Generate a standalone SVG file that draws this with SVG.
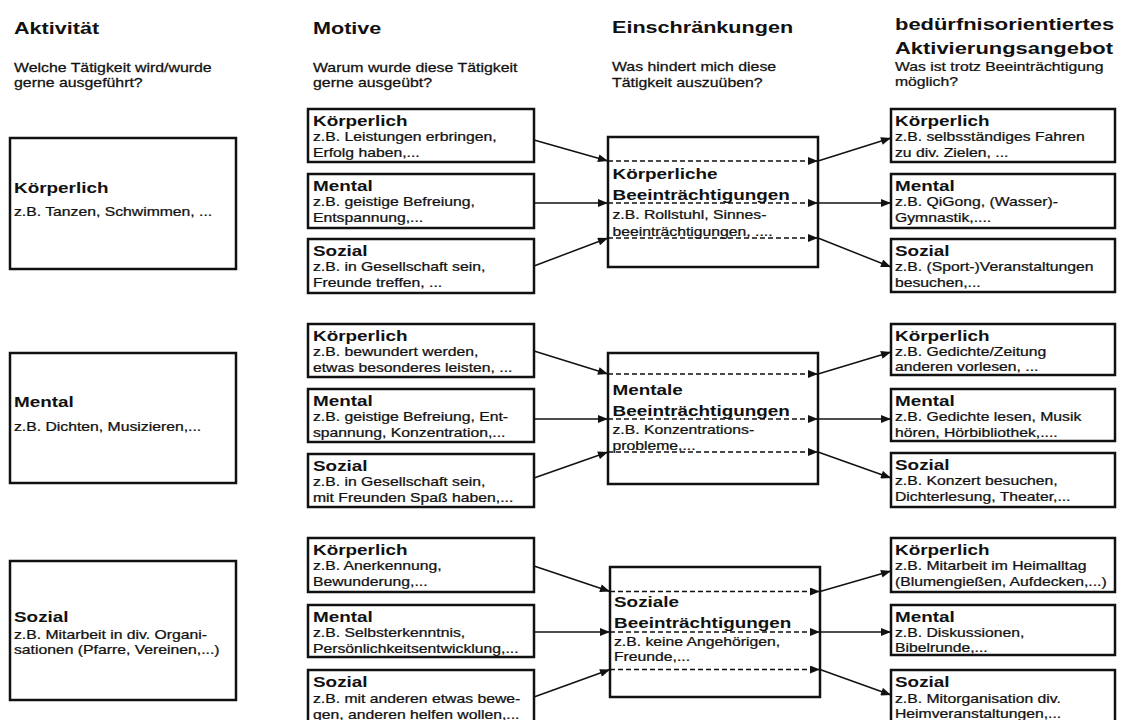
<svg xmlns="http://www.w3.org/2000/svg" width="1122" height="720" viewBox="0 0 1122 720">
<defs>
<style>
text { font-family: "Liberation Sans", Arial, sans-serif; fill: #111; }
.h { font-size: 17px; font-weight: bold; }
.q { font-size: 12.5px; stroke: #111; stroke-width: 0.25; }
.b { font-size: 15px; font-weight: bold; }
.s { font-size: 12.5px; stroke: #111; stroke-width: 0.25; }
.box { fill: #fff; stroke: #111; stroke-width: 2.5; }
.ln { stroke: #111; stroke-width: 1.5; fill: none; marker-end: url(#ah); }
.dl { stroke: #111; stroke-width: 1.3; stroke-dasharray: 5 3; fill: none; marker-end: url(#ah); }
</style>
<marker id="ah" viewBox="0 0 10 8" refX="10" refY="4" markerWidth="11" markerHeight="8" markerUnits="userSpaceOnUse" orient="auto">
<path d="M0,0 L10,4 L0,8 z" fill="#111"/>
</marker>
</defs>
<rect width="1122" height="720" fill="#fff"/>

<g id="headers">
<g transform="translate(14 0) scale(1.27 1)">
<text class="h" y="34">Aktivität</text>
<text class="q" y="72">Welche Tätigkeit wird/wurde</text>
<text class="q" y="87.5">gerne ausgeführt?</text>
</g>
<g transform="translate(313 0) scale(1.27 1)">
<text class="h" y="34">Motive</text>
<text class="q" y="72">Warum wurde diese Tätigkeit</text>
<text class="q" y="87.5">gerne ausgeübt?</text>
</g>
<g transform="translate(612 0) scale(1.27 1)">
<text class="h" y="33.5">Einschränkungen</text>
<text class="q" y="71.5">Was hindert mich diese</text>
<text class="q" y="87.5">Tätigkeit auszuüben?</text>
</g>
<g transform="translate(895 0) scale(1.29 1)">
<text class="h" y="30">bedürfnisorientiertes</text>
<text class="h" y="54">Aktivierungsangebot</text>
</g>
<g transform="translate(895 0) scale(1.26 1)">
<text class="q" y="71">Was ist trotz Beeinträchtigung</text>
<text class="q" y="86.5">möglich?</text>
</g>
</g>

<!-- Aktivität column -->
<g id="akt-koerperlich">
<rect class="box" x="10" y="138" width="226" height="131"/>
<g transform="translate(14 0) scale(1.26 1)">
<text class="b" y="193">Körperlich</text>
<text class="s" y="216">z.B. Tanzen, Schwimmen, ...</text>
</g>
</g>
<g id="akt-mental">
<rect class="box" x="10" y="353" width="226" height="130"/>
<g transform="translate(14 0) scale(1.26 1)">
<text class="b" y="407">Mental</text>
<text class="s" y="431">z.B. Dichten, Musizieren,...</text>
</g>
</g>
<g id="akt-sozial">
<rect class="box" x="10" y="561" width="226" height="139"/>
<g transform="translate(14 0) scale(1.26 1)">
<text class="b" y="622">Sozial</text>
<text class="s" y="639">z.B. Mitarbeit in div. Organi-</text>
<text class="s" y="654">sationen (Pfarre, Vereinen,...)</text>
</g>
</g>

<!-- Motive column -->
<g id="mot-1-koerperlich">
<rect class="box" x="308" y="109" width="226" height="53"/>
<g transform="translate(313 0) scale(1.26 1)">
<text class="b" y="126">Körperlich</text>
<text class="s" y="141.5">z.B. Leistungen erbringen,</text>
<text class="s" y="157">Erfolg haben,...</text>
</g>
</g>
<g id="mot-1-mental">
<rect class="box" x="308" y="174" width="226" height="54"/>
<g transform="translate(313 0) scale(1.26 1)">
<text class="b" y="191">Mental</text>
<text class="s" y="206.5">z.B. geistige Befreiung,</text>
<text class="s" y="222">Entspannung,...</text>
</g>
</g>
<g id="mot-1-sozial">
<rect class="box" x="308" y="239" width="226" height="54"/>
<g transform="translate(313 0) scale(1.26 1)">
<text class="b" y="256">Sozial</text>
<text class="s" y="271.5">z.B. in Gesellschaft sein,</text>
<text class="s" y="287">Freunde treffen, ...</text>
</g>
</g>
<g id="mot-2-koerperlich">
<rect class="box" x="308" y="324" width="226" height="53"/>
<g transform="translate(313 0) scale(1.26 1)">
<text class="b" y="341">Körperlich</text>
<text class="s" y="356.5">z.B. bewundert werden,</text>
<text class="s" y="372">etwas besonderes leisten, ...</text>
</g>
</g>
<g id="mot-2-mental">
<rect class="box" x="308" y="389" width="226" height="53"/>
<g transform="translate(313 0) scale(1.26 1)">
<text class="b" y="406">Mental</text>
<text class="s" y="421.5">z.B. geistige Befreiung, Ent-</text>
<text class="s" y="437">spannung, Konzentration,...</text>
</g>
</g>
<g id="mot-2-sozial">
<rect class="box" x="308" y="454" width="226" height="53"/>
<g transform="translate(313 0) scale(1.26 1)">
<text class="b" y="471">Sozial</text>
<text class="s" y="486.5">z.B. in Gesellschaft sein,</text>
<text class="s" y="502">mit Freunden Spaß haben,...</text>
</g>
</g>
<g id="mot-3-koerperlich">
<rect class="box" x="308" y="538" width="226" height="54"/>
<g transform="translate(313 0) scale(1.26 1)">
<text class="b" y="555">Körperlich</text>
<text class="s" y="570.5">z.B. Anerkennung,</text>
<text class="s" y="586">Bewunderung,...</text>
</g>
</g>
<g id="mot-3-mental">
<rect class="box" x="308" y="605" width="226" height="52"/>
<g transform="translate(313 0) scale(1.26 1)">
<text class="b" y="622">Mental</text>
<text class="s" y="637.5">z.B. Selbsterkenntnis,</text>
<text class="s" y="653">Persönlichkeitsentwicklung,...</text>
</g>
</g>
<g id="mot-3-sozial">
<rect class="box" x="308" y="670" width="226" height="56"/>
<g transform="translate(313 0) scale(1.26 1)">
<text class="b" y="687">Sozial</text>
<text class="s" y="703">z.B. mit anderen etwas bewe-</text>
<text class="s" y="719">gen, anderen helfen wollen,...</text>
</g>
</g>

<!-- Einschränkungen column -->
<g id="ein-koerperlich">
<rect class="box" x="608" y="137" width="210" height="130"/>
<g transform="translate(612.5 0) scale(1.26 1)">
<text class="b" y="179.5">Körperliche</text>
<text class="b" y="200">Beeinträchtigungen</text>
<text class="s" y="219">z.B. Rollstuhl, Sinnes-</text>
<text class="s" y="236">beeinträchtigungen, ....</text>
</g>
</g>
<g id="ein-mental">
<rect class="box" x="608" y="353" width="210" height="131"/>
<g transform="translate(612.5 0) scale(1.26 1)">
<text class="b" y="395">Mentale</text>
<text class="b" y="416">Beeinträchtigungen</text>
<text class="s" y="434">z.B. Konzentrations-</text>
<text class="s" y="450.5">probleme,...</text>
</g>
</g>
<g id="ein-sozial">
<rect class="box" x="610" y="567" width="210" height="130"/>
<g transform="translate(614 0) scale(1.26 1)">
<text class="b" y="607.5">Soziale</text>
<text class="b" y="628.5">Beeinträchtigungen</text>
<text class="s" y="646">z.B. keine Angehörigen,</text>
<text class="s" y="661.5">Freunde,...</text>
</g>
</g>

<!-- Angebot column -->
<g id="ang-1-koerperlich">
<rect class="box" x="891" y="109" width="224" height="53"/>
<g transform="translate(895 0) scale(1.26 1)">
<text class="b" y="126">Körperlich</text>
<text class="s" y="141.5">z.B. selbsständiges Fahren</text>
<text class="s" y="157">zu div. Zielen, ...</text>
</g>
</g>
<g id="ang-1-mental">
<rect class="box" x="891" y="174" width="224" height="54"/>
<g transform="translate(895 0) scale(1.26 1)">
<text class="b" y="191">Mental</text>
<text class="s" y="206.5">z.B. QiGong, (Wasser)-</text>
<text class="s" y="222">Gymnastik,....</text>
</g>
</g>
<g id="ang-1-sozial">
<rect class="box" x="891" y="239" width="224" height="53"/>
<g transform="translate(895 0) scale(1.26 1)">
<text class="b" y="256">Sozial</text>
<text class="s" y="271.5">z.B. (Sport-)Veranstaltungen</text>
<text class="s" y="287">besuchen,...</text>
</g>
</g>
<g id="ang-2-koerperlich">
<rect class="box" x="891" y="324" width="224" height="51"/>
<g transform="translate(895 0) scale(1.26 1)">
<text class="b" y="341">Körperlich</text>
<text class="s" y="356.5">z.B. Gedichte/Zeitung</text>
<text class="s" y="371">anderen vorlesen, ...</text>
</g>
</g>
<g id="ang-2-mental">
<rect class="box" x="891" y="389" width="224" height="52"/>
<g transform="translate(895 0) scale(1.26 1)">
<text class="b" y="406">Mental</text>
<text class="s" y="421.5">z.B. Gedichte lesen, Musik</text>
<text class="s" y="437">hören, Hörbibliothek,....</text>
</g>
</g>
<g id="ang-2-sozial">
<rect class="box" x="891" y="453" width="224" height="54"/>
<g transform="translate(895 0) scale(1.26 1)">
<text class="b" y="470">Sozial</text>
<text class="s" y="485.5">z.B. Konzert besuchen,</text>
<text class="s" y="501">Dichterlesung, Theater,...</text>
</g>
</g>
<g id="ang-3-koerperlich">
<rect class="box" x="891" y="538" width="224" height="54"/>
<g transform="translate(895 0) scale(1.26 1)">
<text class="b" y="555">Körperlich</text>
<text class="s" y="570.5">z.B. Mitarbeit im Heimalltag</text>
<text class="s" y="586">(Blumengießen, Aufdecken,...)</text>
</g>
</g>
<g id="ang-3-mental">
<rect class="box" x="891" y="605" width="224" height="50"/>
<g transform="translate(895 0) scale(1.26 1)">
<text class="b" y="622">Mental</text>
<text class="s" y="637">z.B. Diskussionen,</text>
<text class="s" y="652">Bibelrunde,...</text>
</g>
</g>
<g id="ang-3-sozial">
<rect class="box" x="891" y="670" width="224" height="56"/>
<g transform="translate(895 0) scale(1.26 1)">
<text class="b" y="687">Sozial</text>
<text class="s" y="703">z.B. Mitorganisation div.</text>
<text class="s" y="718">Heimveranstaltungen,...</text>
</g>
</g>

<g id="connectors">
<path class="ln" d="M534,140 L608,161"/>
<path class="ln" d="M534,203 L608,203"/>
<path class="ln" d="M534,266 L608,238"/>
<path class="dl" d="M608,161 L818,161"/>
<path class="dl" d="M608,203 L818,203"/>
<path class="dl" d="M608,238 L818,238"/>
<path class="ln" d="M818,161 L891,138"/>
<path class="ln" d="M818,203 L891,203"/>
<path class="ln" d="M818,238 L891,267"/>

<path class="ln" d="M534,351 L608,374"/>
<path class="ln" d="M534,419 L608,419"/>
<path class="ln" d="M534,478 L608,452"/>
<path class="dl" d="M608,374 L818,374"/>
<path class="dl" d="M608,419 L818,419"/>
<path class="dl" d="M608,452 L818,452"/>
<path class="ln" d="M818,374 L891,352"/>
<path class="ln" d="M818,419 L891,419"/>
<path class="ln" d="M818,452 L891,478"/>

<path class="ln" d="M534,566 L610,591.5"/>
<path class="ln" d="M534,632 L610,632"/>
<path class="ln" d="M534,697 L610,669.5"/>
<path class="dl" d="M610,591.5 L820,591.5"/>
<path class="dl" d="M610,632 L820,632"/>
<path class="dl" d="M610,669.5 L820,669.5"/>
<path class="ln" d="M820,591.5 L891,571"/>
<path class="ln" d="M820,632 L891,632"/>
<path class="ln" d="M820,669.5 L891,695"/>
</g>
</svg>
